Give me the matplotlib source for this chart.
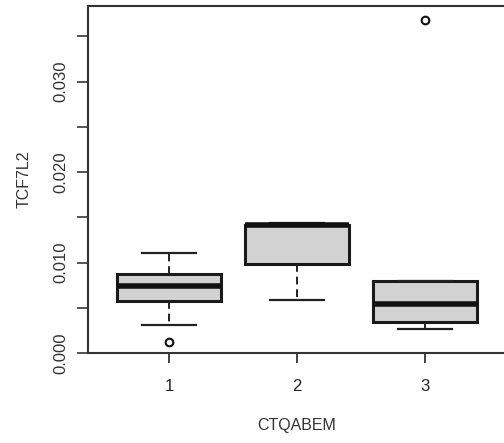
import matplotlib
matplotlib.use("Agg")
import matplotlib.pyplot as plt

plt.rcParams['font.family'] = ['Liberation Sans', 'DejaVu Sans']

groups = ["1", "2", "3"]
q1 = [0.00575, 0.00983, 0.00343]
medians = [0.00740, 0.01410, 0.00540]
q3 = [0.00873, 0.01414, 0.00796]
whislo = [0.00310, 0.00586, 0.00265]
whishi = [0.01105, 0.01436, 0.00796]
outliers = [[0.0012], [], [0.0368]]

ytick_vals = [0.000, 0.005, 0.010, 0.015, 0.020, 0.025, 0.030, 0.035]
ytick_labels = ["0.000", "", "0.010", "", "0.020", "", "0.030", ""]

stats = []
for i, g in enumerate(groups):
    stats.append(dict(label=g, q1=q1[i], med=medians[i], q3=q3[i],
                      whislo=whislo[i], whishi=whishi[i], fliers=outliers[i]))

W, H = 504, 443
fig = plt.figure(figsize=(W / 100, H / 100), dpi=100)
left, right, bottom, top = 88, 506, 353, 6
ax = fig.add_axes([left / W, 1 - bottom / H, (right - left) / W, (bottom - top) / H])

ax.bxp(stats, positions=[1, 2, 3], widths=0.81, patch_artist=True,
       boxprops=dict(facecolor='#d2d2d2', edgecolor='#1a1a1a', linewidth=2.2),
       medianprops=dict(color='#111111', linewidth=4),
       whiskerprops=dict(color='#222222', linewidth=1.4, linestyle=(0, (4, 2.5))),
       capprops=dict(color='#222222', linewidth=1.6),
       capwidths=0.42,
       flierprops=dict(marker='o', markersize=5.5, markerfacecolor='none',
                       markeredgecolor='#111111', markeredgewidth=1.5))

ax.set_xlim(1 - 81 / 128, 3 + 81 / 128)
ax.set_ylim(0.0, (bottom - top) / 9050)

ax.set_yticks(ytick_vals)
ax.set_yticklabels(ytick_labels)
ax.set_xticks([1, 2, 3])
ax.set_xticklabels(groups)

for s in ['left', 'bottom', 'top', 'right']:
    ax.spines[s].set_linewidth(1.5)
    ax.spines[s].set_color('#333333')

ax.tick_params(axis='y', length=8, width=1.3, color='#444444', pad=6,
               labelsize=12, labelrotation=90, labelcolor='#333333')
for lab in ax.get_yticklabels():
    lab.set_va('center')
ax.tick_params(axis='x', length=7, width=1.3, color='#333333', pad=12,
               labelsize=12, labelcolor='#222222')

ax.set_ylabel("TCF7L2", fontsize=11.5, color='#333333', labelpad=16)
ax.set_xlabel("CTQABEM", fontsize=11.5, color='#333333', labelpad=17)

fig.savefig("out.png", dpi=100)
